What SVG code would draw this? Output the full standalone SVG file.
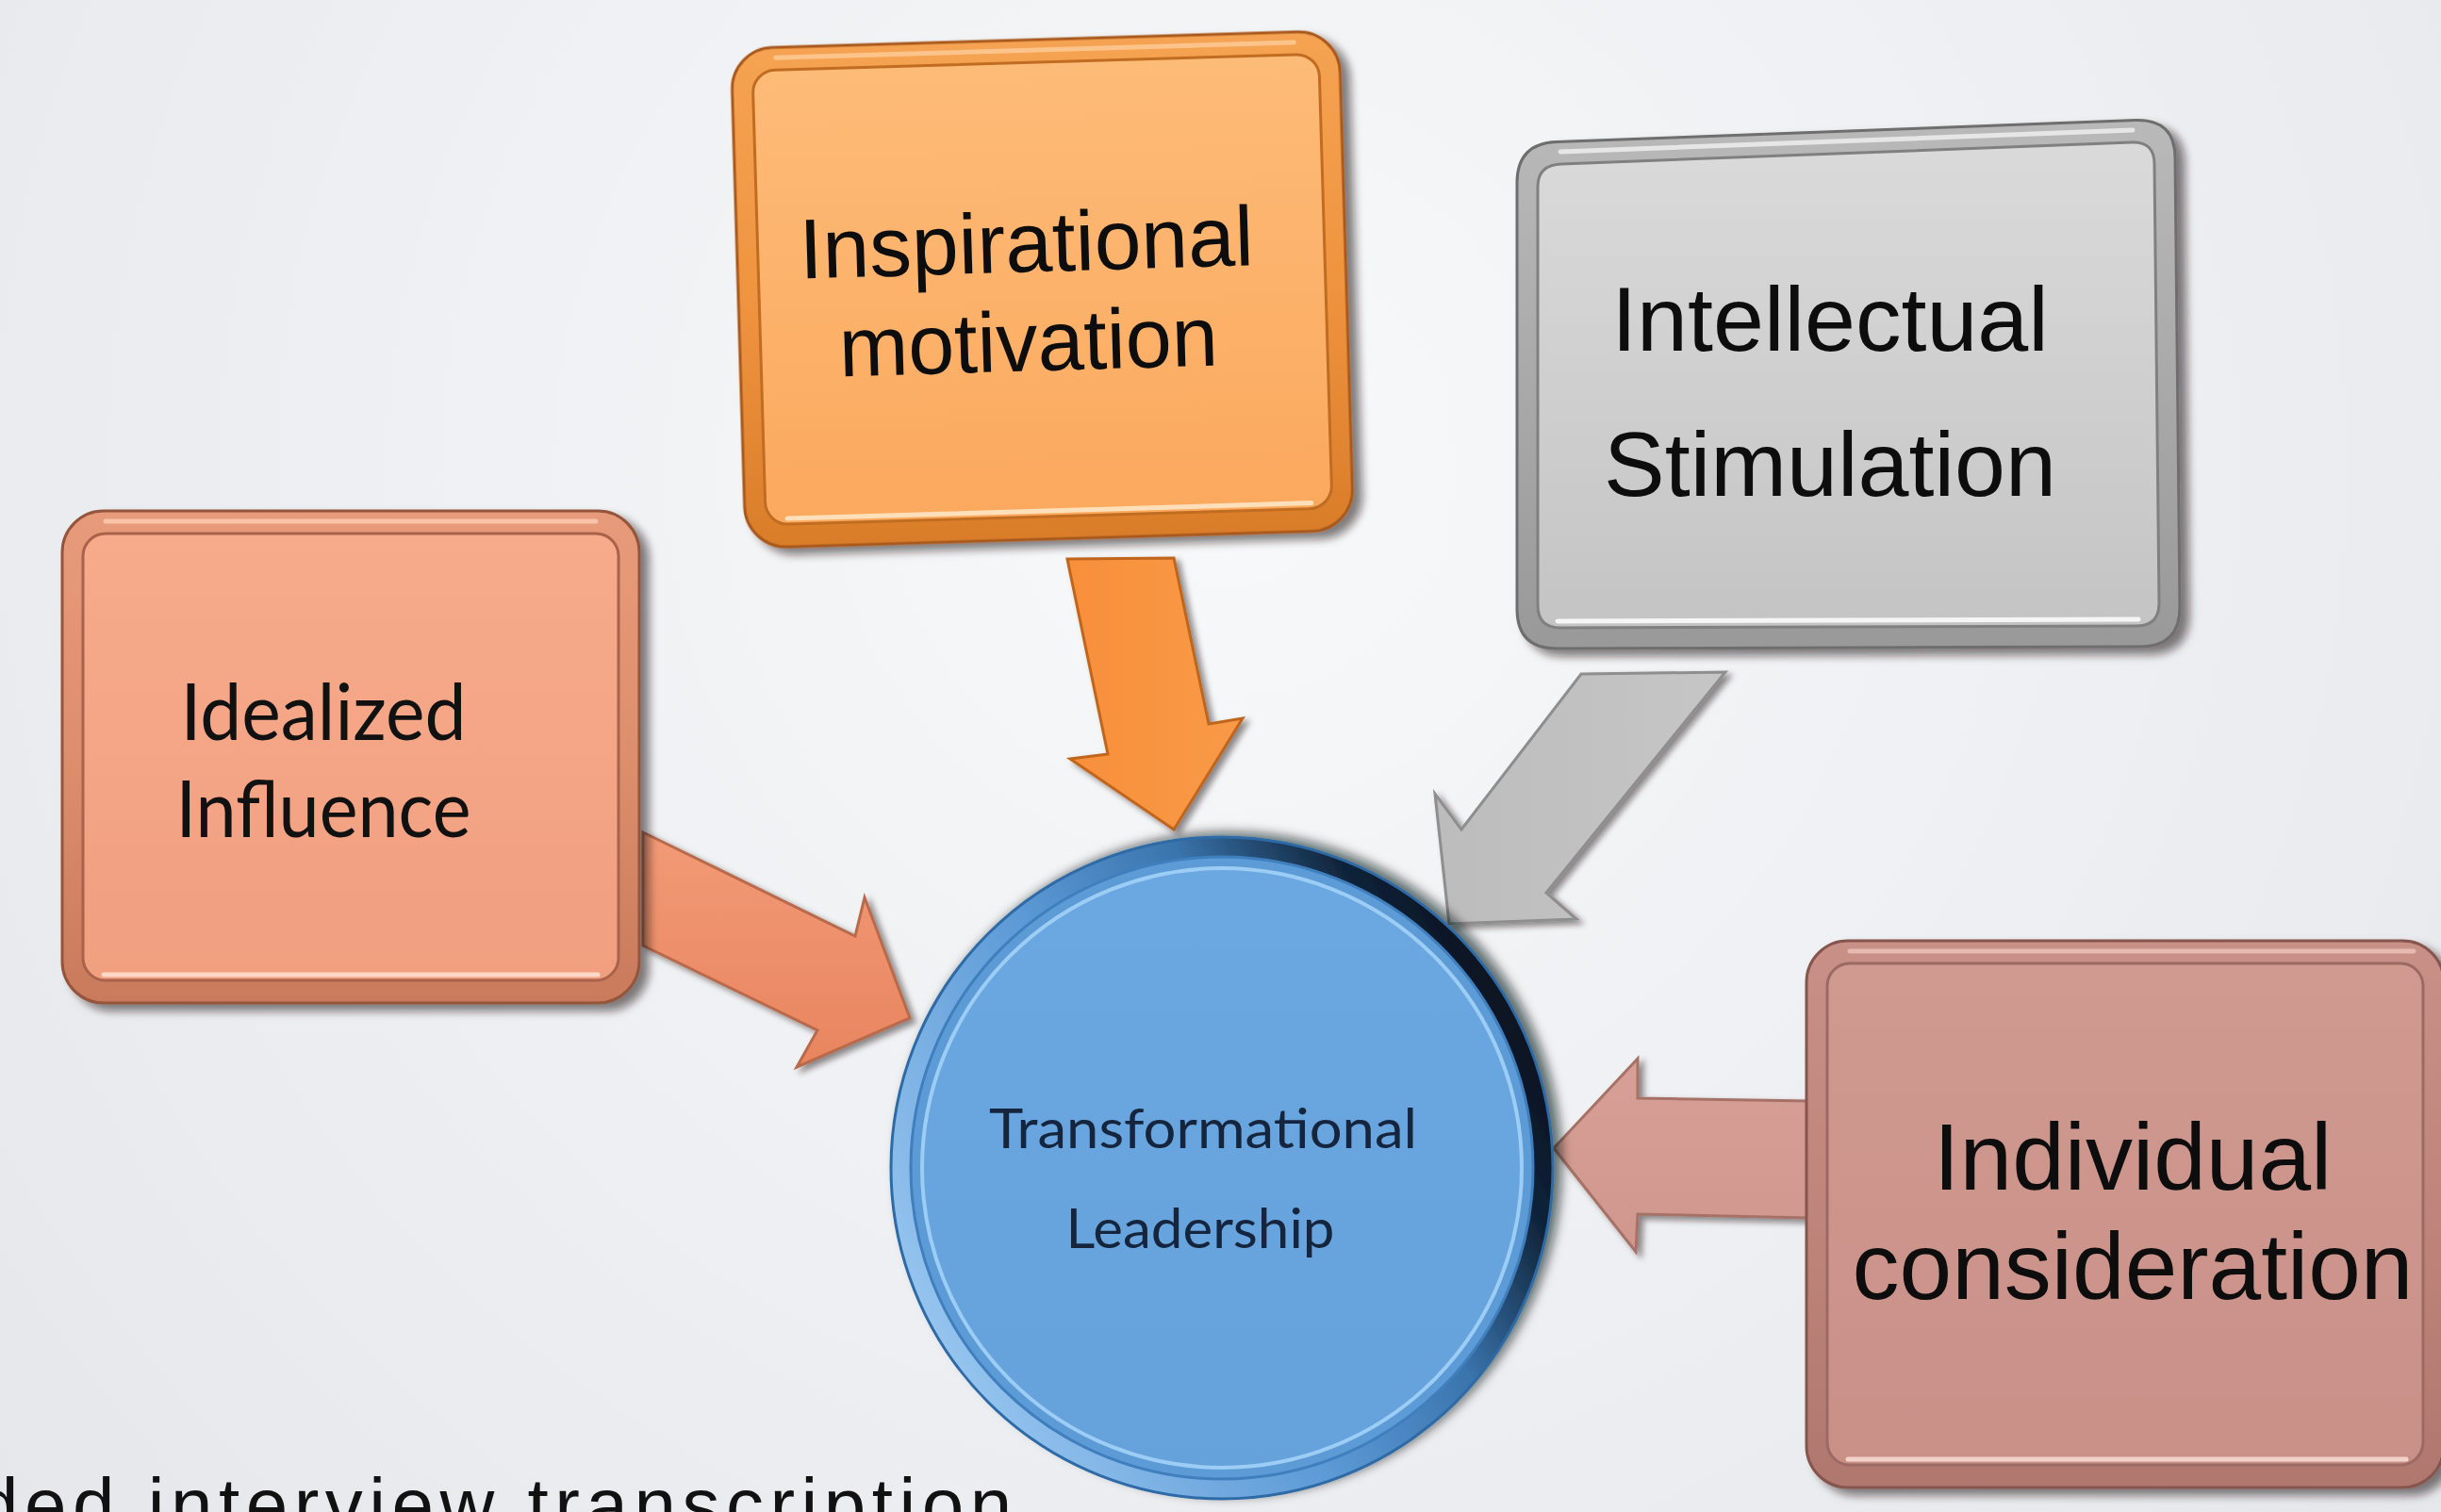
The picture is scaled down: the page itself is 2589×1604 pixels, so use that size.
<svg xmlns="http://www.w3.org/2000/svg" width="2589" height="1604" viewBox="0 0 2589 1604">
<defs>
  <radialGradient id="bg" cx="1300" cy="500" r="1700" gradientUnits="userSpaceOnUse">
    <stop offset="0" stop-color="#f8f9fa"/>
    <stop offset="1" stop-color="#e6e7eb"/>
  </radialGradient>
  <filter id="sh" x="-10%" y="-10%" width="125%" height="125%">
    <feDropShadow dx="9" dy="7" stdDeviation="5" flood-color="#1e120c" flood-opacity="0.55"/>
  </filter>
  <filter id="shA" x="-10%" y="-10%" width="125%" height="125%">
    <feDropShadow dx="5" dy="4" stdDeviation="3" flood-color="#1e120c" flood-opacity="0.5"/>
  </filter>
  <filter id="shC" x="-10%" y="-10%" width="125%" height="125%">
    <feDropShadow dx="8" dy="-4" stdDeviation="6" flood-color="#050d18" flood-opacity="0.6"/>
  </filter>
  <linearGradient id="frA" x1="0" y1="0" x2="0" y2="1">
    <stop offset="0" stop-color="#e89b7a"/><stop offset="0.5" stop-color="#dd8e6c"/><stop offset="1" stop-color="#c97a5b"/>
  </linearGradient>
  <linearGradient id="fcA" x1="0" y1="0" x2="0" y2="1">
    <stop offset="0" stop-color="#f7ab8b"/><stop offset="1" stop-color="#f09f7f"/>
  </linearGradient>
  <linearGradient id="frB" x1="0" y1="0" x2="0" y2="1">
    <stop offset="0" stop-color="#f5a352"/><stop offset="0.5" stop-color="#ef9440"/><stop offset="1" stop-color="#d97d2a"/>
  </linearGradient>
  <linearGradient id="fcB" x1="0" y1="0" x2="0" y2="1">
    <stop offset="0" stop-color="#fdbb78"/><stop offset="1" stop-color="#fba95e"/>
  </linearGradient>
  <linearGradient id="frC" x1="0" y1="0" x2="0" y2="1">
    <stop offset="0" stop-color="#b9b9b9"/><stop offset="0.5" stop-color="#a9a9a9"/><stop offset="1" stop-color="#999999"/>
  </linearGradient>
  <linearGradient id="fcC" x1="0" y1="0" x2="0" y2="1">
    <stop offset="0" stop-color="#dadada"/><stop offset="1" stop-color="#c4c4c4"/>
  </linearGradient>
  <linearGradient id="frD" x1="0" y1="0" x2="0" y2="1">
    <stop offset="0" stop-color="#c99087"/><stop offset="0.5" stop-color="#bf857b"/><stop offset="1" stop-color="#b0776e"/>
  </linearGradient>
  <linearGradient id="fcD" x1="0" y1="0" x2="0" y2="1">
    <stop offset="0" stop-color="#d09a90"/><stop offset="1" stop-color="#c99088"/>
  </linearGradient>
  <linearGradient id="ring" x1="0.1" y1="0.8" x2="1" y2="0.3">
    <stop offset="0" stop-color="#94c3ee"/>
    <stop offset="0.4" stop-color="#5c9ad6"/>
    <stop offset="0.65" stop-color="#3a74ad"/>
    <stop offset="0.85" stop-color="#10243a"/>
    <stop offset="1" stop-color="#050d18"/>
  </linearGradient>
  <linearGradient id="face" x1="0" y1="0" x2="0" y2="1">
    <stop offset="0" stop-color="#6ba8e1"/><stop offset="1" stop-color="#65a2dc"/>
  </linearGradient>
  <linearGradient id="arA" x1="0" y1="0" x2="0" y2="1">
    <stop offset="0" stop-color="#f29a76"/><stop offset="1" stop-color="#e8855f"/>
  </linearGradient>
  <linearGradient id="arB" x1="0" y1="0" x2="1" y2="0">
    <stop offset="0" stop-color="#f88f3a"/><stop offset="1" stop-color="#f89a48"/>
  </linearGradient>
  <linearGradient id="arC" x1="0" y1="0" x2="1" y2="0">
    <stop offset="0" stop-color="#bcbcbc"/><stop offset="1" stop-color="#c6c6c6"/>
  </linearGradient>
  <linearGradient id="arD" x1="0" y1="0" x2="0" y2="1">
    <stop offset="0" stop-color="#d7a096"/><stop offset="1" stop-color="#cf978d"/>
  </linearGradient>
</defs>
<style>
  .arial { font-family: "Liberation Sans", Arial, sans-serif; fill: #0d0d0d; text-anchor: middle; }
  .cal { font-family: Lato, "Open Sans", sans-serif; text-anchor: middle; }
  .hl { fill: none; stroke-linecap: round; }
  .arrow { stroke-width: 3; stroke-linejoin: miter; filter: url(#shA); }
</style>
<rect x="0" y="0" width="2589" height="1604" fill="url(#bg)"/>

<g id="connectors">
  <polygon class="arrow" points="682,883 907,993 917,952 965,1080 845,1132 867,1093 682,1003" fill="url(#arA)" stroke="#b96a4c"/>
  <polygon class="arrow" points="1132,593 1245,592 1282,768 1318,762 1245,880 1135,805 1175,800" fill="url(#arB)" stroke="#c0661c"/>
  <polygon class="arrow" points="1677,715 1830,713 1640,947 1672,975 1537,980 1522,842 1550,880" fill="url(#arC)" stroke="#8e8e8e"/>
  <polygon class="arrow" points="1648,1218 1737,1123 1737,1165 1918,1168 1918,1292 1737,1288 1735,1328" fill="url(#arD)" stroke="#a67268"/>
</g>

<g id="node-idealized">
  <rect x="66" y="542" width="612" height="522" rx="44" fill="url(#frA)" stroke="#94553c" stroke-width="3" filter="url(#sh)"/>
  <line class="hl" x1="112" y1="553" x2="632" y2="553" stroke="#f8c3a8" stroke-width="5"/>
  <rect x="88" y="566" width="568" height="474" rx="24" fill="url(#fcA)" stroke="#a8634a" stroke-width="3"/>
  <line class="hl" x1="110" y1="1034" x2="634" y2="1034" stroke="#fdd8c6" stroke-width="5"/>
  <text class="cal" x="343" y="785" font-size="84" fill="#111" textLength="303" lengthAdjust="spacingAndGlyphs">Idealized</text>
  <text class="cal" x="343" y="888" font-size="84" fill="#111" textLength="313" lengthAdjust="spacingAndGlyphs">Influence</text>
</g>

<g id="node-inspirational" transform="rotate(-1.7 1105 307)">
  <rect x="783" y="42" width="645" height="530" rx="44" fill="url(#frB)" stroke="#a8581a" stroke-width="3" filter="url(#sh)"/>
  <line class="hl" x1="830" y1="53" x2="1380" y2="53" stroke="#fcc48a" stroke-width="5"/>
  <rect x="805" y="66" width="601" height="482" rx="24" fill="url(#fcB)" stroke="#c06d22" stroke-width="3"/>
  <line class="hl" x1="828" y1="542" x2="1384" y2="542" stroke="#ffe0bb" stroke-width="5"/>
  <text class="arial" x="1090" y="288" font-size="90" textLength="482" lengthAdjust="spacingAndGlyphs">Inspirational</text>
  <text class="arial" x="1089" y="393" font-size="90" textLength="402" lengthAdjust="spacingAndGlyphs">motivation</text>
</g>

<g id="node-intellectual">
  <path d="M1651,150.5 L2265,127.5 Q2307,126 2307,168 L2312,644 Q2312,686 2270,686 L1651,688 Q1609,688 1609,646 L1609,194 Q1609,152 1651,150.5 Z" fill="url(#frC)" stroke="#6e6e6e" stroke-width="3" filter="url(#sh)"/>
  <line class="hl" x1="1655" y1="161" x2="2262" y2="138" stroke="#e6e6e6" stroke-width="5"/>
  <path d="M1656,174 L2261,151 Q2285,150 2285,174 L2290,640 Q2290,664 2266,664 L1655,666 Q1631,666 1631,642 L1631,198 Q1631,175 1656,174 Z" fill="url(#fcC)" stroke="#808080" stroke-width="3"/>
  <line class="hl" x1="1652" y1="659" x2="2268" y2="657" stroke="#f6f6f6" stroke-width="5"/>
  <text class="arial" x="1941" y="372" font-size="97">Intellectual</text>
  <text class="arial" x="1941" y="526" font-size="97">Stimulation</text>
</g>

<g id="node-individual">
  <rect x="1916" y="998" width="676" height="580" rx="44" fill="url(#frD)" stroke="#86554d" stroke-width="3" filter="url(#sh)"/>
  <line class="hl" x1="1962" y1="1009" x2="2560" y2="1009" stroke="#e6b8ae" stroke-width="5"/>
  <rect x="1938" y="1022" width="632" height="532" rx="24" fill="url(#fcD)" stroke="#9c6a61" stroke-width="3"/>
  <line class="hl" x1="1960" y1="1548" x2="2552" y2="1548" stroke="#f3d2ca" stroke-width="5"/>
  <text class="arial" x="2262" y="1262" font-size="100">Individual</text>
  <text class="arial" x="2262" y="1378" font-size="100">consideration</text>
</g>

<g id="node-transformational">
  <circle cx="1296" cy="1239" r="351" fill="url(#ring)" stroke="#2f6aa5" stroke-width="3" filter="url(#shC)"/>
  <circle cx="1296" cy="1239" r="330" fill="#5d9bd7" stroke="#3f7fbd" stroke-width="3"/>
  <circle cx="1296" cy="1239" r="318" fill="url(#face)" stroke="#9ccdf5" stroke-width="4"/>
  <text class="cal" x="1276" y="1218" font-size="58" fill="#14253d" textLength="454" lengthAdjust="spacingAndGlyphs">Transformational</text>
  <text class="cal" x="1273" y="1324" font-size="58" fill="#14253d" textLength="285" lengthAdjust="spacingAndGlyphs">Leadership</text>
</g>

<text x="-25" y="1624" font-family="Liberation Sans, Arial, sans-serif" font-size="80" letter-spacing="6.5" fill="#111">ded interview transcription</text>
</svg>
